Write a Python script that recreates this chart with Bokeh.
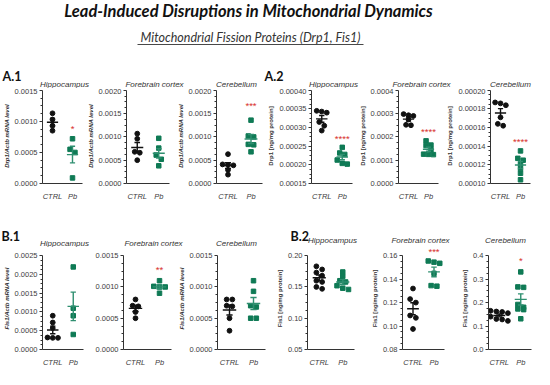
import numpy as np
from bokeh.plotting import figure
from bokeh.layouts import column, row
from bokeh.models import Range1d, FactorRange, FixedTicker, CustomJSTickFormatter
from bokeh.core.properties import value
from bokeh.embed import file_html
from bokeh.resources import INLINE

# ---------------- data ----------------
groups = ["CTRL", "Pb"]
regions = ["Hippocampus", "Forebrain cortex", "Cerebellum"]

main_title = "Lead-Induced Disruptions in Mitochondrial Dynamics"
sub_title = "Mitochondrial Fission Proteins (Drp1, Fis1)"
section_labels = ["A.1", "A.2", "B.1", "B.2"]

# A.1  Drp1/Actb mRNA level
a1_hip_ctrl = [0.00113, 0.00103, 0.00093, 0.00085]
a1_hip_pb = [0.00072, 0.00055, 0.00050, 0.00009]
a1_fore_ctrl = [0.00107, 0.00096, 0.00068, 0.00066, 0.00050]
a1_fore_pb = [0.00097, 0.00076, 0.00061, 0.00052, 0.00038]
a1_cer_ctrl = [0.00063, 0.00041, 0.00040, 0.00039, 0.00029, 0.00019]
a1_cer_pb = [0.00136, 0.00102, 0.00100, 0.00084, 0.00083, 0.00068]

# A.2  Drp1 [ng/mg protein]
a2_hip_ctrl = [0.000345, 0.000343, 0.000340, 0.000315, 0.000305, 0.000292]
a2_hip_pb = [0.000247, 0.000232, 0.000228, 0.000213, 0.000204, 0.000202]
a2_fore_ctrl = [0.000298, 0.000293, 0.000290, 0.000275, 0.000252, 0.000250]
a2_fore_pb = [0.000183, 0.000165, 0.000163, 0.000145, 0.000125, 0.000124, 0.000126]
a2_cer_ctrl = [0.000187, 0.000186, 0.000184, 0.000171, 0.000164, 0.000162]
a2_cer_pb = [0.000135, 0.000127, 0.000125, 0.000121, 0.000116, 0.000111, 0.000104]

# B.1  Fis1/Actb mRNA level
b1_hip_ctrl = [0.00090, 0.00072, 0.00057, 0.00032, 0.00031, 0.00031]
b1_hip_pb = [0.00220, 0.00110, 0.00090, 0.00040]
b1_fore_ctrl = [0.00080, 0.00070, 0.00069, 0.00060, 0.00050]
b1_fore_pb = [0.00110, 0.00101, 0.00100, 0.00100, 0.00090]
b1_cer_ctrl = [0.00080, 0.00080, 0.00070, 0.00069, 0.00050, 0.00030]
b1_cer_pb = [0.00110, 0.00093, 0.00070, 0.00068, 0.00050, 0.00050]

# B.2  Fis1 [ng/mg protein]
b2_hip_ctrl = [0.183, 0.178, 0.173, 0.168, 0.160, 0.158, 0.150, 0.147]
b2_hip_pb = [0.174, 0.167, 0.160, 0.158, 0.152, 0.148, 0.146]
b2_fore_ctrl = [0.132, 0.123, 0.120, 0.109, 0.107, 0.0975]
b2_fore_pb = [0.1545, 0.1555, 0.1535, 0.145, 0.1345, 0.134]
b2_cer_ctrl = [0.155, 0.160, 0.162, 0.165, 0.122, 0.128, 0.130, 0.140]
b2_cer_pb = [0.331, 0.265, 0.267, 0.192, 0.180, 0.170, 0.173, 0.131]

# axis ticks / labels
a1_hip_ticks = [0.0, 0.0005, 0.0010, 0.0015]
a1_hip_tlabels = ["0.0000", "0.0005", "0.0010", "0.0015"]
a1_ticks = [0.0, 0.0005, 0.0010, 0.0015, 0.0020]
a1_tlabels = ["0.0000", "0.0005", "0.0010", "0.0015", "0.0020"]
a2_hip_ticks = [0.00015, 0.00020, 0.00025, 0.00030, 0.00035, 0.00040]
a2_hip_tlabels = ["0.00015", "0.00020", "0.00025", "0.00030", "0.00035", "0.00040"]
a2_fore_ticks = [0.0, 0.0001, 0.0002, 0.0003, 0.0004]
a2_fore_tlabels = ["0.0000", "0.0001", "0.0002", "0.0003", "0.0004"]
a2_cer_ticks = [0.00010, 0.00012, 0.00014, 0.00016, 0.00018, 0.00020]
a2_cer_tlabels = ["0.00010", "0.00012", "0.00014", "0.00016", "0.00018", "0.00020"]
b1_hip_ticks = [0.0, 0.0005, 0.0010, 0.0015, 0.0020, 0.0025]
b1_hip_tlabels = ["0.0000", "0.0005", "0.0010", "0.0015", "0.0020", "0.0025"]
b1_ticks = [0.0, 0.0005, 0.0010, 0.0015]
b1_tlabels = ["0.0000", "0.0005", "0.0010", "0.0015"]
b2_hip_ticks = [0.05, 0.10, 0.15, 0.20]
b2_hip_tlabels = ["0.05", "0.10", "0.15", "0.20"]
b2_fore_ticks = [0.08, 0.10, 0.12, 0.14, 0.16]
b2_fore_tlabels = ["0.08", "0.10", "0.12", "0.14", "0.16"]
b2_cer_ticks = [0.0, 0.1, 0.2, 0.3, 0.4]
b2_cer_tlabels = ["0.0", "0.1", "0.2", "0.3", "0.4"]

ylab_a1 = "Drp1/Actb mRNA level"
ylab_a2 = "Drp1 [ng/mg protein]"
ylab_b1 = "Fis1/Actb mRNA level"
ylab_b2 = "Fis1 [ng/mg protein]"

# significance marks (Pb vs CTRL) and the level they are drawn at
a1_stars = ["*", "", "***"];        a1_star_y = [0.00089, None, 0.00168]
a2_stars = ["****", "****", "****"]; a2_star_y = [0.00027, 0.000222, 0.000145]
b1_stars = ["", "**", ""];          b1_star_y = [None, 0.00128, None]
b2_stars = ["", "***", "*"];        b2_star_y = [None, 0.1633, 0.381]

# ---------------- style / layout ----------------
W, H = 534, 369
CTRL_COL = "#111111"
PB_COL = "#0f7a55"
PB_LINE = "#2f8f70"
STAR_COL = "#d8312c"
TXT = "#333333"
FONT = "Liberation Sans"

# vertical bands: (figure top, axis top, axis bottom, figure bottom)
ROW_A = (88, 90, 192, 203)
ROW_B = (247, 256, 359, 369)

# (fig left, fig right, frame left, frame right)
geo_a = [(0, 84, 35, 82), (84, 174, 120, 169), (174, 265, 213, 262),
         (265, 356, 305, 352), (356, 444, 391, 438), (444, 534, 487, 530)]
geo_b = [(0, 88, 38, 83), (88, 175, 123, 171), (175, 268, 216, 265),
         (268, 358, 307, 354), (358, 448, 402, 444), (448, 534, 488, 531)]

title_x_a = [64, 154, 236, 333, 421, 510]
title_x_b = [64, 153, 236, 332, 420, 505]


def swarm(vals, py, size):
    """pixel x-offsets so that points with close values sit side by side"""
    vals = np.asarray(vals, dtype=float)
    order = np.argsort(-vals)
    rows, cur = [], []
    for i in order:
        if cur and (vals[cur[0]] - vals[i]) * py >= size:
            rows.append(cur)
            cur = []
        cur.append(i)
    if cur:
        rows.append(cur)
    offs = np.zeros(len(vals))
    for r in rows:
        n = len(r)
        for k, i in enumerate(r):
            offs[i] = (k - (n - 1) / 2) * size * 1.2
    return offs


def make_panel(geo, band, ctrl, pb, ticks, tlabels, ylabel, star, star_y):
    fl, fr, gl, gr = geo
    top, ftop, fbot, bot = band
    y0, y1 = ticks[0], ticks[-1]
    fw, fh = gr - gl, fbot - ftop
    py = fh / (y1 - y0)
    # the plotting area reaches above the axis top so that marks above it stay visible
    y_ext = y1 + (ftop - top) / py
    p = figure(width=fr - fl, height=bot - top,
               x_range=FactorRange(factors=groups), y_range=Range1d(y0, y_ext),
               output_backend="svg", toolbar_location=None,
               min_border_left=gl - fl, min_border_right=fr - gr,
               min_border_top=0, min_border_bottom=bot - fbot)
    p.outline_line_color = None
    p.xgrid.grid_line_color = None
    p.ygrid.grid_line_color = None
    p.background_fill_color = "white"
    p.border_fill_color = "white"

    unit = fw / len(groups)
    size = 4.8
    for gi, vals in enumerate([ctrl, pb]):
        c = gi + 0.5
        offs = swarm(vals, py, size)
        xs = [c + o / unit for o in offs]
        m = float(np.mean(vals))
        se = float(np.std(vals, ddof=1) / np.sqrt(len(vals)))
        if gi == 0:
            p.scatter(xs, vals, marker="circle", size=size, color=CTRL_COL)
            lc = CTRL_COL
        else:
            p.scatter(xs, vals, marker="square", size=size - 0.3, color=PB_COL)
            lc = PB_LINE
        p.segment(x0=[c - 0.28, c, c - 0.13, c - 0.13],
                  y0=[m, m - se, m - se, m + se],
                  x1=[c + 0.28, c, c + 0.13, c + 0.13],
                  y1=[m, m + se, m - se, m + se],
                  line_color=lc, line_width=1.4)
    if star:
        p.text(x=[1.5], y=[star_y], text=[star], text_color=STAR_COL,
               text_font=value(FONT), text_font_size="9.5px",
               text_align="center", text_baseline="middle")

    minors = []
    for a, b in zip(ticks[:-1], ticks[1:]):
        minors += list(np.linspace(a, b, 5)[1:-1])
    p.yaxis.ticker = FixedTicker(ticks=ticks, minor_ticks=minors)
    p.yaxis.bounds = (y0, y1)
    p.yaxis.formatter = CustomJSTickFormatter(
        args=dict(tk=ticks, lb=tlabels),
        code="const d=(tk[1]-tk[0])*1e-3; for (let i=0;i<tk.length;i++){ if (Math.abs(tk[i]-tick)<d) return lb[i]; } return '';")
    for ax in (p.xaxis, p.yaxis):
        ax.axis_line_color = "#333333"
        ax.axis_line_width = 1
        ax.major_label_text_font = FONT
        ax.major_label_text_color = "#3c3c3c"
        ax.major_label_text_font_size = "7.5px"
        ax.major_label_standoff = 2
    p.yaxis.major_tick_out = 3
    p.yaxis.major_tick_in = 0
    p.yaxis.minor_tick_out = 2
    p.yaxis.minor_tick_in = 0
    p.yaxis.major_tick_line_color = "#333333"
    p.yaxis.minor_tick_line_color = "#333333"
    p.xaxis.major_tick_line_color = None
    p.xaxis.minor_tick_line_color = None
    p.xaxis.major_label_text_font_style = "italic"
    p.xaxis.major_label_standoff = 2
    if ylabel:
        p.yaxis.axis_label = ylabel
        p.yaxis.axis_label_text_font = FONT
        p.yaxis.axis_label_text_font_size = "6px"
        p.yaxis.axis_label_text_font_style = "bold italic" if "mRNA" in ylabel else "bold"
        p.yaxis.axis_label_text_color = TXT
        p.yaxis.axis_label_standoff = 2
    return p


def make_header(y0, h):
    p = figure(width=W, height=h, x_range=Range1d(0, W), y_range=Range1d(y0 + h, y0),
               output_backend="svg", toolbar_location=None, min_border=0,
               x_axis_type=None, y_axis_type=None)
    p.outline_line_color = None
    p.xgrid.grid_line_color = None
    p.ygrid.grid_line_color = None
    return p


# header 1 (y 0..88)
h1 = make_header(0, 88)
h1.text(x=[248], y=[0.5], text=[main_title], text_font=value("Lato"), text_font_size="16.5px",
        text_font_style="bold italic", text_color="#111111", text_align="center", text_baseline="top")
h1.text(x=[250], y=[37], text=[sub_title], text_font=value("Lato"), text_font_size="12.5px",
        text_font_style="italic", text_color=TXT, text_align="center", text_baseline="middle")
h1.segment(x0=[137], y0=[44], x1=[363], y1=[44], line_color=TXT, line_width=0.9)
h1.text(x=[2, 264], y=[76, 76], text=section_labels[:2], text_font=value("Lato"), text_font_size="12.5px",
        text_font_style="bold", text_color="#111111", text_align="left", text_baseline="middle")
h1.text(x=title_x_a, y=[83.5] * 6, text=regions * 2, text_font=value(FONT), text_font_size="8px",
        text_font_style="italic", text_color=TXT, text_align="center", text_baseline="middle")

# header 2 (y 203..247)
h2 = make_header(203, 44)
h2.text(x=[1, 290], y=[236, 236], text=section_labels[2:], text_font=value("Lato"), text_font_size="12.5px",
        text_font_style="bold", text_color="#111111", text_align="left", text_baseline="middle")
h2.text(x=title_x_b, y=[242.5] * 3 + [240] * 3, text=regions * 2, text_font=value(FONT),
        text_font_size="8px", text_font_style="italic", text_color=TXT,
        text_align="center", text_baseline="middle")

row_a = row(
    make_panel(geo_a[0], ROW_A, a1_hip_ctrl, a1_hip_pb, a1_hip_ticks, a1_hip_tlabels, ylab_a1, a1_stars[0], a1_star_y[0]),
    make_panel(geo_a[1], ROW_A, a1_fore_ctrl, a1_fore_pb, a1_ticks, a1_tlabels, ylab_a1, a1_stars[1], a1_star_y[1]),
    make_panel(geo_a[2], ROW_A, a1_cer_ctrl, a1_cer_pb, a1_ticks, a1_tlabels, ylab_a1, a1_stars[2], a1_star_y[2]),
    make_panel(geo_a[3], ROW_A, a2_hip_ctrl, a2_hip_pb, a2_hip_ticks, a2_hip_tlabels, ylab_a2, a2_stars[0], a2_star_y[0]),
    make_panel(geo_a[4], ROW_A, a2_fore_ctrl, a2_fore_pb, a2_fore_ticks, a2_fore_tlabels, ylab_a2, a2_stars[1], a2_star_y[1]),
    make_panel(geo_a[5], ROW_A, a2_cer_ctrl, a2_cer_pb, a2_cer_ticks, a2_cer_tlabels, ylab_a2, a2_stars[2], a2_star_y[2]),
)
row_b = row(
    make_panel(geo_b[0], ROW_B, b1_hip_ctrl, b1_hip_pb, b1_hip_ticks, b1_hip_tlabels, ylab_b1, b1_stars[0], b1_star_y[0]),
    make_panel(geo_b[1], ROW_B, b1_fore_ctrl, b1_fore_pb, b1_ticks, b1_tlabels, None, b1_stars[1], b1_star_y[1]),
    make_panel(geo_b[2], ROW_B, b1_cer_ctrl, b1_cer_pb, b1_ticks, b1_tlabels, ylab_b1, b1_stars[2], b1_star_y[2]),
    make_panel(geo_b[3], ROW_B, b2_hip_ctrl, b2_hip_pb, b2_hip_ticks, b2_hip_tlabels, ylab_b2, b2_stars[0], b2_star_y[0]),
    make_panel(geo_b[4], ROW_B, b2_fore_ctrl, b2_fore_pb, b2_fore_ticks, b2_fore_tlabels, ylab_b2, b2_stars[1], b2_star_y[1]),
    make_panel(geo_b[5], ROW_B, b2_cer_ctrl, b2_cer_pb, b2_cer_ticks, b2_cer_tlabels, ylab_b2, b2_stars[2], b2_star_y[2]),
)

layout = column(h1, row_a, h2, row_b)
open("out.html", "w").write(file_html(layout, INLINE))
